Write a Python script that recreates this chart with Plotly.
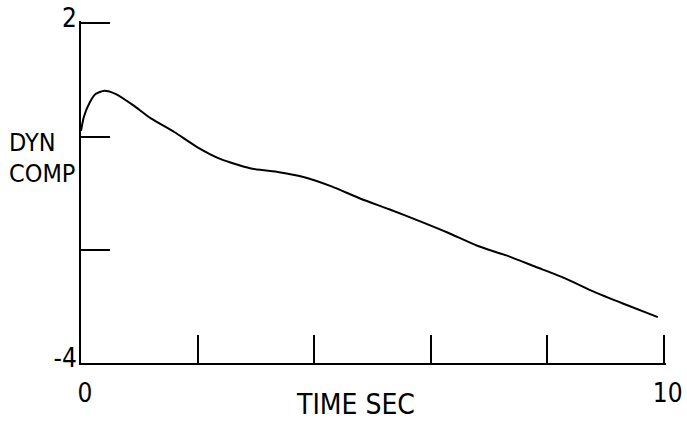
import plotly.graph_objects as go

time_sec = [0.0, 0.05, 0.15, 0.25, 0.4, 0.6, 0.9, 1.2, 1.6, 2.0, 2.4, 2.9, 3.4, 3.8,
            4.3, 4.8, 5.3, 5.8, 6.3, 6.8, 7.3, 7.8, 8.3, 8.8, 9.3, 9.9]
dyn_comp = [0.10, 0.35, 0.60, 0.75, 0.81, 0.75, 0.55, 0.32, 0.08, -0.19, -0.40, -0.56,
            -0.63, -0.71, -0.88, -1.10, -1.29, -1.49, -1.70, -1.93, -2.10, -2.30, -2.50,
            -2.74, -2.95, -3.19]

x_tickvals = [0, 2, 4, 6, 8, 10]
x_ticktext = ["0", "", "", "", "", "10"]
y_tickvals = [-4, -2, 0, 2]
y_ticktext = ["-4", "", "", "2"]

FONT = "DejaVu Sans Condensed, Liberation Sans Narrow, Arial Narrow, sans-serif"

fig = go.Figure()
fig.add_trace(go.Scatter(x=time_sec, y=dyn_comp, mode="lines",
                         line=dict(color="black", width=2, shape="spline", smoothing=0.6),
                         showlegend=False, hoverinfo="skip"))

fig.update_layout(
    width=687, height=423,
    margin=dict(l=81, r=21, t=21, b=60, autoexpand=False),
    paper_bgcolor="white", plot_bgcolor="white",
    font=dict(family=FONT, size=26, color="black"),
    xaxis=dict(range=[0, 10.04], showgrid=False, zeroline=False, automargin=False,
               showline=True, linecolor="black", linewidth=1.5,
               ticks="inside", ticklen=28, tickwidth=1.5, tickcolor="black",
               tickvals=x_tickvals, ticktext=x_ticktext,
               ticklabelshift=4, ticklabelstandoff=6,
               tickfont=dict(family=FONT, size=26)),
    yaxis=dict(range=[-4, 2.04], showgrid=False, zeroline=False, automargin=False,
               showline=True, linecolor="black", linewidth=2,
               ticks="inside", ticklen=29, tickwidth=1.5, tickcolor="black",
               tickvals=y_tickvals, ticktext=y_ticktext,
               ticklabelshift=-5, ticklabelstandoff=-3,
               tickfont=dict(family=FONT, size=26)),
    annotations=[
        dict(text="DYN", xref="paper", yref="paper", x=-0.127, y=0.644,
             xanchor="left", yanchor="middle", showarrow=False,
             font=dict(family=FONT, size=25)),
        dict(text="COMP", xref="paper", yref="paper", x=-0.127, y=0.553,
             xanchor="left", yanchor="middle", showarrow=False,
             font=dict(family=FONT, size=25)),
        dict(text="TIME SEC", xref="paper", yref="paper", x=0.47, y=-0.12,
             xanchor="center", yanchor="middle", showarrow=False,
             font=dict(family=FONT, size=28)),
    ],
)

fig.write_html("out.html", config={"displayModeBar": False},
               post_script="document.body.style.margin='0';")
